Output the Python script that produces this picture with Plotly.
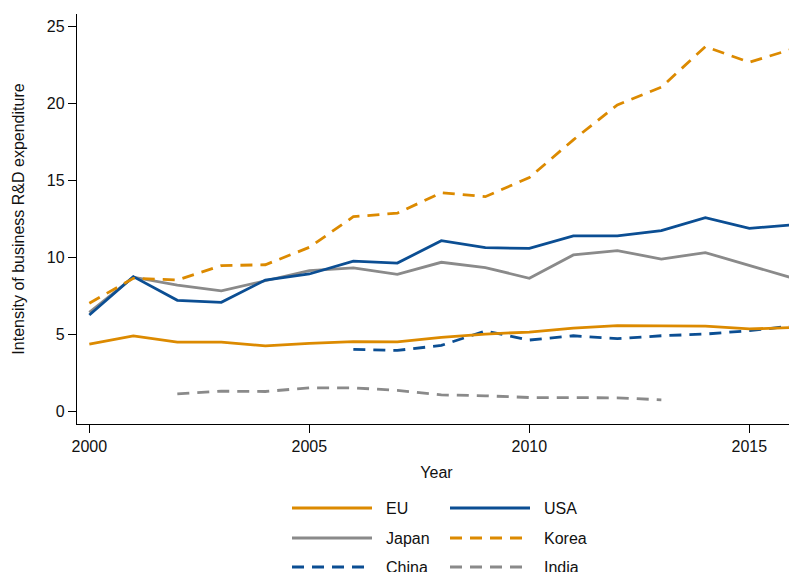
import plotly.graph_objects as go

years = list(range(2000, 2017))

eu = [4.38, 4.92, 4.51, 4.51, 4.27, 4.44, 4.55, 4.53, 4.83, 5.04, 5.17, 5.43, 5.59, 5.59, 5.55, 5.37, 5.46]
usa = [6.28, 8.77, 7.23, 7.10, 8.55, 8.94, 9.78, 9.65, 11.10, 10.65, 10.60, 11.41, 11.41, 11.76, 12.60, 11.90, 12.14]
japan = [6.45, 8.73, 8.22, 7.84, 8.50, 9.16, 9.34, 8.92, 9.70, 9.36, 8.66, 10.18, 10.46, 9.91, 10.33, 9.47, 8.66]
korea = [7.04, 8.66, 8.55, 9.48, 9.54, 10.67, 12.66, 12.89, 14.22, 13.96, 15.20, 17.65, 19.92, 21.07, 23.70, 22.69, 23.56]
china_years = list(range(2006, 2017))
china = [4.05, 3.98, 4.30, 5.24, 4.65, 4.93, 4.74, 4.93, 5.04, 5.26, 5.57]
india_years = list(range(2002, 2014))
india = [1.16, 1.33, 1.31, 1.55, 1.55, 1.38, 1.09, 1.03, 0.92, 0.92, 0.90, 0.77]

ORANGE = "#DC8A00"
BLUE = "#0B4E93"
GRAY = "#8A8A8A"
DASH = "12px,8px"
LW = 2.8

series = [
    ("EU", years, eu, ORANGE, "solid"),
    ("USA", years, usa, BLUE, "solid"),
    ("Japan", years, japan, GRAY, "solid"),
    ("Korea", years, korea, ORANGE, DASH),
    ("China", china_years, china, BLUE, DASH),
    ("India", india_years, india, GRAY, DASH),
]

fig = go.Figure()
draw_order = ["India", "China", "Japan", "USA", "EU", "Korea"]
lookup = {s[0]: s for s in series}
for name in draw_order:
    n, xs, ys, col, dash = lookup[name]
    fig.add_trace(go.Scatter(x=xs, y=ys, mode="lines", name=n,
                             line=dict(color=col, width=LW, dash=dash),
                             showlegend=False))

# page body has an 8px margin, so the figure is drawn 8px in from the top-left
OFF = 8
W, H = 797 - OFF, 572 - OFF
L, R, T, B = 77 - OFF, 796 - OFF, 14 - OFF, 424 - OFF

def px(x):
    return (x - OFF - L) / (R - L)

def py(y):
    return (B - (y - OFF)) / (B - T)

shapes = []
annotations = []
legend_pos = [(292, 508), (450, 508), (292, 538), (450, 538), (292, 567), (450, 567)]
for (n, xs, ys, col, dash), (lx, ly) in zip(series, legend_pos):
    shapes.append(dict(type="line", xref="paper", yref="paper",
                       x0=px(lx), x1=px(lx + 80), y0=py(ly), y1=py(ly),
                       line=dict(color=col, width=LW, dash=dash)))
    annotations.append(dict(xref="paper", yref="paper", x=px(lx + 92), y=py(ly),
                            text=n, showarrow=False, xanchor="left", yanchor="middle",
                            font=dict(size=16, color="#111111")))

fig.update_layout(
    width=W, height=H,
    margin=dict(l=L, r=W - R, t=T, b=H - B, autoexpand=False),
    paper_bgcolor="white", plot_bgcolor="white",
    font=dict(family="Liberation Sans, Arial, sans-serif", size=16, color="#111111"),
    shapes=shapes, annotations=annotations,
    showlegend=False,
)
fig.update_xaxes(range=[1999.72, 2016.06], tickvals=[2000, 2005, 2010, 2015],
                 showline=True, linecolor="black", linewidth=1.3, ticks="outside",
                 ticklen=8, tickcolor="black", tickwidth=1.2, showgrid=False, zeroline=False,
                 tickfont=dict(size=16), title=dict(text="Year", font=dict(size=16), standoff=12))
fig.update_yaxes(range=[-0.80, 25.82], tickvals=[0, 5, 10, 15, 20, 25],
                 showline=True, linecolor="black", linewidth=1.3, ticks="outside",
                 ticklen=8, tickcolor="black", tickwidth=1.2, showgrid=False, zeroline=False,
                 tickfont=dict(size=16),
                 title=dict(text="Intensity of business R&D expenditure", font=dict(size=16), standoff=18))

fig.write_html("out.html")
